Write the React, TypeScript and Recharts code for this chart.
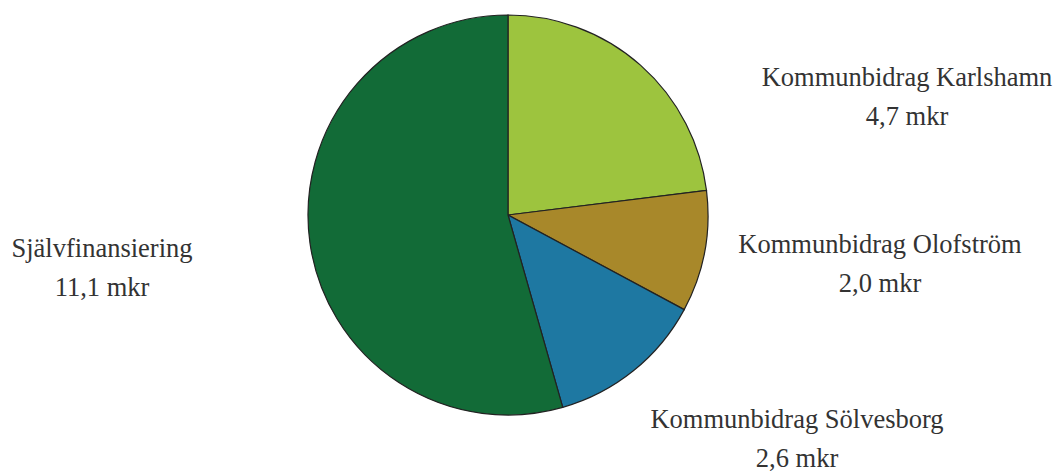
import { Cell, Pie, PieChart } from 'recharts';

const names = [
  'Kommunbidrag Karlshamn',
  'Kommunbidrag Olofström',
  'Kommunbidrag Sölvesborg',
  'Självfinansiering',
];
const values = [4.7, 2.0, 2.6, 11.1];
const valueLabels = ['4,7 mkr', '2,0 mkr', '2,6 mkr', '11,1 mkr'];

const colors = ['#9dc43e', '#a8882a', '#1e78a2', '#126b37'];
// label placement relative to pie centre (first line baseline)
const labelOffsets = [
  [399, -129],
  [372, 38],
  [289, 213],
  [-406, 42],
];

const data = names.map((name, i) => ({ name, value: values[i], sub: valueLabels[i] }));

const font = 'Liberation Serif';

function renderLabel(props: any) {
  const { cx, cy, index } = props;
  const [dx, dy] = labelOffsets[index];
  const x = cx + dx;
  const y = cy + dy;
  const st = { fontFamily: font, fontSize: 26.5 };
  return (
    <g key={`lbl-${index}`}>
      <text x={x} y={y} textAnchor="middle" fill="#333333" style={st}>
        {data[index].name}
      </text>
      <text x={x} y={y + 39} textAnchor="middle" fill="#333333" style={st}>
        {data[index].sub}
      </text>
    </g>
  );
}

export default function App() {
  return (
    <div style={{ position: 'absolute', left: 0, top: 0, width: 1058, height: 475, background: '#fff' }}>
      <PieChart width={1058} height={475} margin={{ top: 0, right: 0, bottom: 0, left: 0 }}>
        <Pie
          data={data}
          dataKey="value"
          nameKey="name"
          cx={508}
          cy={215}
          outerRadius={200}
          startAngle={90}
          endAngle={-270}
          stroke="#222"
          strokeWidth={1.2}
          label={renderLabel}
          labelLine={false}
          isAnimationActive={false}
        >
          {data.map((d, i) => (
            <Cell key={d.name} fill={colors[i]} />
          ))}
        </Pie>
      </PieChart>
    </div>
  );
}
